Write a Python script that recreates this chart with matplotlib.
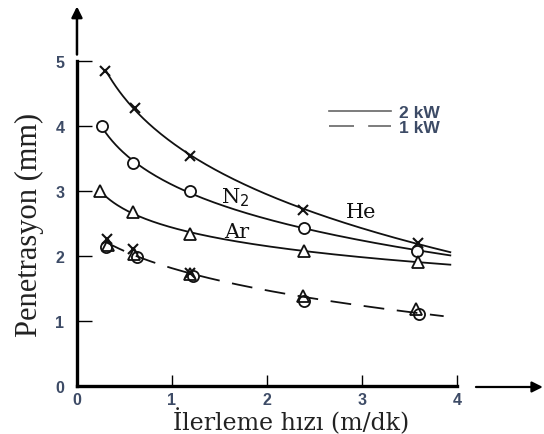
import numpy as np
import matplotlib
matplotlib.use("Agg")
import matplotlib.pyplot as plt
from matplotlib.lines import Line2D

# ---- data ----
he_x = [0.30, 0.61, 1.19, 2.38, 3.59]
he_y = [4.85, 4.28, 3.54, 2.71, 2.20]
n2_x = [0.26, 0.59, 1.19, 2.39, 3.58]
n2_y = [4.00, 3.43, 3.00, 2.43, 2.08]
ar_x = [0.24, 0.59, 1.19, 2.39, 3.59]
ar_y = [3.00, 2.68, 2.34, 2.08, 1.91]

# 1 kW points (markers overlap)
he1_x = [0.32, 0.59, 1.19]
he1_y = [2.26, 2.11, 1.74]
ar1_x = [0.33, 0.60, 1.19, 2.38, 3.57]
ar1_y = [2.17, 2.03, 1.72, 1.38, 1.18]
n21_x = [0.31, 0.63, 1.22, 2.39, 3.60]
n21_y = [2.14, 1.98, 1.69, 1.31, 1.11]

x_ticks = [0, 1, 2, 3, 4]
y_ticks = [0, 1, 2, 3, 4, 5]
curve_end_2kw = 3.93
curve_end_1kw = 3.86

def smooth(xs, ys, x_end):
    c = np.polyfit(np.log(xs), ys, 2)
    xx = np.linspace(min(xs), x_end, 200)
    return xx, np.polyval(c, np.log(xx))

fig = plt.figure(figsize=(5.44, 4.35), dpi=100)
ax = fig.add_axes([0.1415, 0.1103, 0.6985, 0.7471])
ax.set_xlim(0, 4)
ax.set_ylim(0, 5)

lc = "#111111"
lw = 1.3
for xs, ys in [(he_x, he_y), (n2_x, n2_y), (ar_x, ar_y)]:
    xx, yy = smooth(xs, ys, curve_end_2kw)
    ax.plot(xx, yy, color=lc, lw=lw, zorder=2)

# dashed 1 kW curve through all 1 kW points
all1_x = np.array(ar1_x + n21_x + he1_x)
all1_y = np.array(ar1_y + n21_y + he1_y)
c1 = np.polyfit(np.log(all1_x), all1_y, 2)
xx1 = np.linspace(0.30, curve_end_1kw, 200)
ax.plot(xx1, np.polyval(c1, np.log(xx1)), color=lc, lw=lw,
        linestyle=(0, (11.5, 7)), zorder=2)

mk = dict(color=lc, linestyle="none", zorder=3)
ax.plot(he_x, he_y, marker="x", ms=7, mew=1.5, **mk)
ax.plot(n2_x, n2_y, marker="o", ms=8, mew=1.3, mfc="white", **mk)
ax.plot(ar_x, ar_y, marker="^", ms=8.5, mew=1.3, mfc="white", **mk)
ax.plot(he1_x, he1_y, marker="x", ms=7, mew=1.5, **mk)
ax.plot(n21_x, n21_y, marker="o", ms=8, mew=1.3, mfc="none", **mk)
ax.plot(ar1_x, ar1_y, marker="^", ms=8.5, mew=1.3, mfc="none", **mk)

# spines / ticks
for s in ["top", "right"]:
    ax.spines[s].set_visible(False)
for s in ["left", "bottom"]:
    ax.spines[s].set_linewidth(2.4)
    ax.spines[s].set_color("black")
ax.set_xticks(x_ticks)
ax.set_yticks(y_ticks)
tick_col = "#3d4b66"
ax.tick_params(axis="y", direction="in", length=11, width=1.0, pad=9,
               labelsize=11.5, labelcolor=tick_col)
ax.tick_params(axis="x", direction="in", length=8, width=1.0, pad=4,
               labelsize=11.5, labelcolor=tick_col)
for lab in ax.get_xticklabels() + ax.get_yticklabels():
    lab.set_fontfamily("Liberation Sans")
    lab.set_fontweight("bold")

# arrows
ax.annotate("", xy=(0, 1.168), xytext=(0, 1.02), xycoords="axes fraction",
            arrowprops=dict(arrowstyle="-|>", lw=1.8, color="black",
                            mutation_scale=16, shrinkA=0, shrinkB=0))
ax.annotate("", xy=(1.226, -0.003), xytext=(1.05, -0.003), xycoords="axes fraction",
            arrowprops=dict(arrowstyle="-|>", lw=1.6, color="black",
                            mutation_scale=16, shrinkA=0, shrinkB=0))

# axis labels
ax.text(-0.124, 0.50, "Penetrasyon (mm)", transform=ax.transAxes, rotation=90,
        ha="center", va="center", fontsize=22, family="Liberation Serif", color="#222222")
ax.text(0.563, -0.107, "İlerleme hızı (m/dk)", transform=ax.transAxes,
        ha="center", va="center", fontsize=17, family="DejaVu Serif", color="#222222")

# curve labels
ax.text(2.99, 2.68, "He", fontsize=15, family="DejaVu Serif", ha="center", va="center", color=lc)
ax.text(1.67, 2.92, "N$_2$", fontsize=15, family="DejaVu Serif", ha="center", va="center", color=lc)
ax.text(1.68, 2.38, "Ar", fontsize=15, family="DejaVu Serif", ha="center", va="center", color=lc)

# legend
h2 = Line2D([], [], color="#666666", lw=1.2)
h1 = Line2D([], [], color="#666666", lw=1.2, linestyle=(0, (15, 8.5)))
leg = ax.legend([h2, h1], ["2 kW", "1 kW"], loc="center left",
                bbox_to_anchor=(0.622, 0.818), frameon=False, handlelength=3.6,
                handletextpad=0.45, labelspacing=0.0,
                prop=dict(family="Liberation Sans", weight="bold", size=12.5))
for t in leg.get_texts():
    t.set_color(tick_col)

fig.savefig("out.png", dpi=100)
